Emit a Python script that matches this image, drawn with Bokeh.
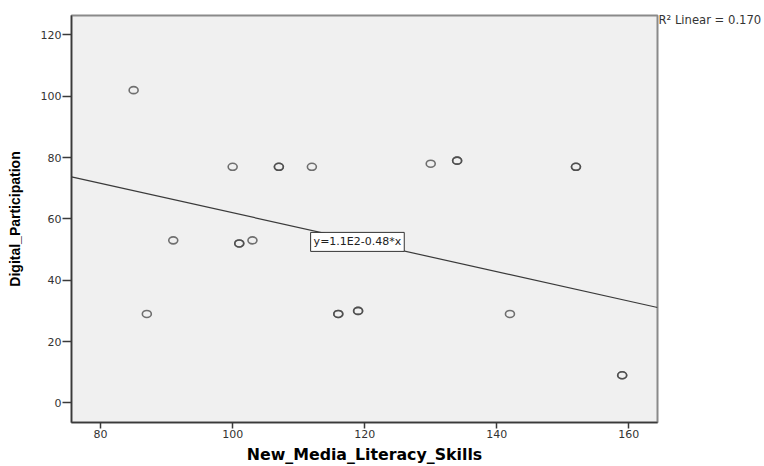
from bokeh.plotting import figure
from bokeh.models import Range1d, FixedTicker, Label, LinearAxis
from bokeh.embed import file_html
from bokeh.resources import INLINE

# Data (repeated pairs are overplotted points)
literacy = [85, 87, 91, 100, 101, 101, 103, 107, 107, 112, 116, 116, 119, 119,
            130, 134, 134, 142, 152, 152, 159, 159]
participation = [102, 29, 53, 77, 52, 52, 53, 77, 77, 77, 29, 29, 30, 30,
                 78, 79, 79, 29, 77, 77, 9, 9]

fit_intercept = 110.0
fit_slope = -0.48
fit_label = "y=1.1E2-0.48*x"
r2_label = "R\u00b2 Linear = 0.170"

x_ticks = [80, 100, 120, 140, 160]
y_ticks = [0, 20, 40, 60, 80, 100, 120]
x_lo, x_hi = 75.59, 164.35
y_lo, y_hi = -6.41, 126.35
r2_pos = 125

p = figure(width=764, height=466, output_backend="svg", toolbar_location=None,
           x_range=Range1d(x_lo, x_hi), y_range=Range1d(y_lo, y_hi),
           min_border_left=71, min_border_right=107, min_border_top=15,
           min_border_bottom=43)

p.background_fill_color = "#f0f0f0"
p.border_fill_color = "white"
p.outline_line_color = "#8a8a8a"
p.outline_line_width = 2
p.xgrid.visible = False
p.ygrid.visible = False

for ax in (p.xaxis, p.yaxis):
    ax.axis_line_color = "#3a3a3a"
    ax.axis_line_width = 1.5
    ax.major_tick_line_color = "#3a3a3a"
    ax.major_tick_line_width = 1.5
    ax.major_tick_in = 0
    ax.minor_tick_line_color = None
    ax.major_label_text_font = "DejaVu Sans"
    ax.major_label_text_font_size = "11px"
    ax.major_label_text_color = "#333333"

p.xaxis.ticker = FixedTicker(ticks=x_ticks)
p.yaxis.ticker = FixedTicker(ticks=y_ticks)
p.xaxis.major_tick_out = 6
p.xaxis.major_label_standoff = 1
p.yaxis.major_tick_out = 9
p.yaxis.major_label_standoff = 1

p.yaxis.axis_label = "Digital_Participation"
p.yaxis.axis_label_text_font = "Liberation Sans"
p.yaxis.axis_label_text_font_style = "bold"
p.yaxis.axis_label_text_font_size = "14px"
p.yaxis.axis_label_text_color = "black"
p.yaxis.axis_label_standoff = 15

p.xaxis.axis_label = "New_Media_Literacy_Skills"
p.xaxis.axis_label_text_font = "DejaVu Sans"
p.xaxis.axis_label_text_font_style = "bold"
p.xaxis.axis_label_text_font_size = "15.8px"
p.xaxis.axis_label_text_color = "black"
p.xaxis.axis_label_standoff = 4

# R-squared note at the top right, outside the plot area
r_axis = LinearAxis(ticker=FixedTicker(ticks=[r2_pos]),
                    major_label_overrides={r2_pos: r2_label},
                    axis_line_color=None, major_tick_line_color=None,
                    minor_tick_line_color=None, major_tick_out=0,
                    major_tick_in=0, major_label_standoff=1,
                    major_label_text_font="DejaVu Sans",
                    major_label_text_font_size="11.6px",
                    major_label_text_color="#333333")
p.add_layout(r_axis, "right")

# Regression line across the x range
line_x = [x_lo, x_hi]
line_y = [fit_intercept + fit_slope * v for v in line_x]
p.line(line_x, line_y, line_color="#3a3a3a", line_width=1.2)

# Points
p.ellipse(x=literacy, y=participation, width=9, height=7,
          width_units="screen", height_units="screen",
          fill_color=None, line_color="#444444", line_alpha=0.75, line_width=1.6)

p.add_layout(Label(x=118.9, y=52.5, text=fit_label, text_align="center",
                   text_baseline="middle", text_font="DejaVu Sans",
                   text_font_size="11px", text_color="#222222",
                   background_fill_color="white", border_line_color="#333333",
                   border_line_width=1, padding=3))

open("out.html", "w").write(file_html(p, INLINE))
